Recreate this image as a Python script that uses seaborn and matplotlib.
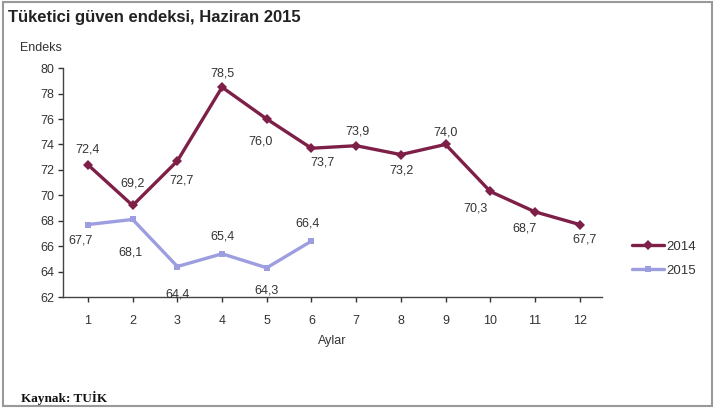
import matplotlib
matplotlib.use("Agg")
import matplotlib.pyplot as plt
import seaborn as sns
import pandas as pd

sns.set_theme(style="white")
plt.rcParams['font.family'] = ['Liberation Sans', 'DejaVu Sans']

months = [1, 2, 3, 4, 5, 6, 7, 8, 9, 10, 11, 12]
idx_2014 = [72.4, 69.2, 72.7, 78.5, 76.0, 73.7, 73.9, 73.2, 74.0, 70.3, 68.7, 67.7]
months_2015 = [1, 2, 3, 4, 5, 6]
idx_2015 = [67.7, 68.1, 64.4, 65.4, 64.3, 66.4]

df = pd.concat([
    pd.DataFrame({"Ay": months, "Endeks": idx_2014, "Yıl": "2014"}),
    pd.DataFrame({"Ay": months_2015, "Endeks": idx_2015, "Yıl": "2015"}),
])

c14 = "#7e1f47"
c15 = "#9d9ee0"

fig = plt.figure(figsize=(7.15, 4.08), dpi=100)
ax = fig.add_axes([0.088, 0.272, 0.754, 0.561])

sns.lineplot(data=df, x="Ay", y="Endeks", hue="Yıl", style="Yıl",
             palette={"2014": c14, "2015": c15},
             markers={"2014": "D", "2015": "s"}, dashes=False,
             linewidth=2.4, markersize=5, markeredgewidth=0, ax=ax)

# label offsets (pixels, converted to points below)
off14 = [(0, -15), (0, -22), (4, 20), (0, -14), (-6, 23), (11, 14),
         (1, -14), (1, 16), (0, -12), (-15, 17), (-10, 17), (5, 15)]
off15 = [(-7, 16), (-2, 33), (0, 28), (0, -17), (0, 23), (-4, -18)]

def fmt(v):
    return f"{v:.1f}".replace(".", ",")

def put(xs, ys, offs):
    for x, y, (dx, dy) in zip(xs, ys, offs):
        ax.annotate(fmt(y), (x, y), xytext=(dx * 0.72, -dy * 0.72),
                    textcoords="offset points", ha="center", va="center",
                    fontsize=9, color="#333333")

put(months, idx_2014, off14)
put(months_2015, idx_2015, off15)

ax.set_xlim(0.44, 12.5)
ax.set_ylim(62, 80)
ax.set_xticks(months)
ax.set_yticks(range(62, 81, 2))
ax.tick_params(axis="both", labelsize=9, colors="#333333", length=3.5,
               direction="out", width=1, bottom=True, left=True)
ax.tick_params(axis="x", pad=9.5)
ax.tick_params(axis="y", pad=3)
for s in ["top", "right"]:
    ax.spines[s].set_visible(False)
for s in ["left", "bottom"]:
    ax.spines[s].set_color("#444444")
    ax.spines[s].set_linewidth(1)
ax.set_xlabel("Aylar", fontsize=9, color="#333333", labelpad=6)
ax.set_ylabel("")
ax.grid(False)

leg = ax.legend(title=None, loc="upper left", bbox_to_anchor=(0.868, 0.44),
                bbox_transform=fig.transFigure, frameon=False, fontsize=9.5,
                handlelength=2.4, handletextpad=0.2, labelspacing=0.9)
for t in leg.get_texts():
    t.set_color("#333333")

fig.text(0.028, 0.875, "Endeks", fontsize=9, color="#333333")
fig.text(0.011, 0.945, "Tüketici güven endeksi, Haziran 2015", fontsize=12,
         fontweight="bold", color="#222222")
fig.text(0.03, 0.015, "Kaynak: TUİK", fontsize=9.5, fontweight="bold",
         family=["Liberation Serif", "DejaVu Serif"], color="#111111")

# outer frame
fig.add_artist(plt.Rectangle((0.004, 0.006), 0.992, 0.988, transform=fig.transFigure,
                             fill=False, edgecolor="#999999", linewidth=1.5))

fig.savefig("out.png", dpi=100, facecolor="white")
